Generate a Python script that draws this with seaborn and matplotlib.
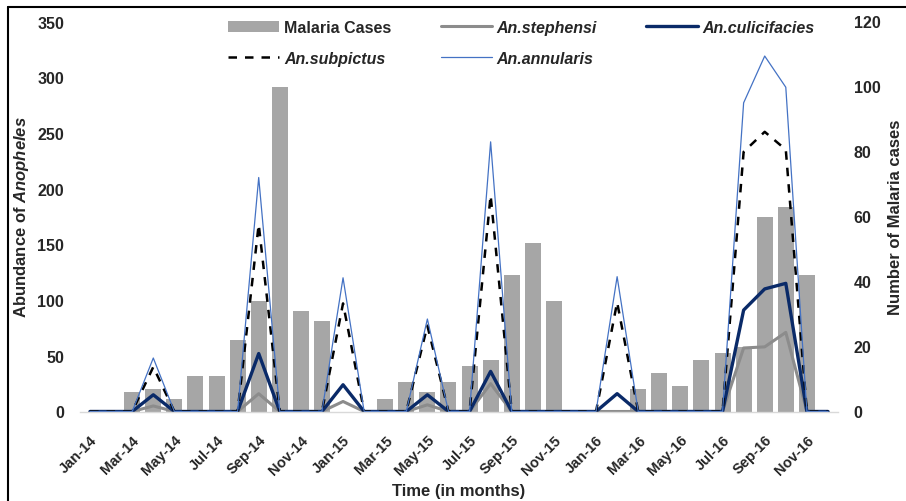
import numpy as np
import pandas as pd
import matplotlib
matplotlib.use("Agg")
import matplotlib.pyplot as plt
from matplotlib.patches import Patch
from matplotlib.lines import Line2D
from matplotlib.font_manager import FontProperties
import seaborn as sns

# ---- data -------------------------------------------------------------
months = [
    "Jan-14", "Feb-14", "Mar-14", "Apr-14", "May-14", "Jun-14",
    "Jul-14", "Aug-14", "Sep-14", "Oct-14", "Nov-14", "Dec-14",
    "Jan-15", "Feb-15", "Mar-15", "Apr-15", "May-15", "Jun-15",
    "Jul-15", "Aug-15", "Sep-15", "Oct-15", "Nov-15", "Dec-15",
    "Jan-16", "Feb-16", "Mar-16", "Apr-16", "May-16", "Jun-16",
    "Jul-16", "Aug-16", "Sep-16", "Oct-16", "Nov-16", "Dec-16",
]

malaria_cases = [0, 0, 6, 7, 4, 11, 11, 22, 34, 100, 31, 28,
                 0, 0, 4, 9, 6, 9, 14, 16, 42, 52, 34, 0,
                 0, 0, 7, 12, 8, 16, 18, 20, 60, 63, 42, 0]

an_stephensi = [0, 0, 0, 5, 0, 0, 0, 0, 16, 0, 0, 0,
                9, 0, 0, 0, 6, 0, 0, 25, 0, 0, 0, 0,
                0, 0, 0, 0, 0, 0, 0, 57, 58, 71, 0, 0]

an_culicifacies = [0, 0, 0, 15, 0, 0, 0, 0, 52, 0, 0, 0,
                   24, 0, 0, 0, 15, 0, 0, 36, 0, 0, 0, 0,
                   0, 16, 0, 0, 0, 0, 0, 91, 110, 115, 0, 0]

an_subpictus = [0, 0, 0, 40, 0, 0, 0, 0, 168, 0, 0, 0,
                97, 0, 0, 0, 77, 0, 0, 194, 0, 0, 0, 0,
                0, 98, 0, 0, 0, 0, 0, 233, 251, 235, 0, 0]

an_annularis = [0, 0, 0, 48, 0, 0, 0, 0, 210, 0, 0, 0,
                120, 0, 0, 0, 83, 0, 0, 242, 0, 0, 0, 0,
                0, 121, 0, 0, 0, 0, 0, 277, 319, 291, 0, 0]

left_ticks = [0, 50, 100, 150, 200, 250, 300, 350]
right_ticks = [0, 20, 40, 60, 80, 100, 120]

# ---- style ------------------------------------------------------------
sns.set_theme(style="white")
plt.rcParams["font.family"] = ["Liberation Sans", "DejaVu Sans"]
plt.rcParams["font.weight"] = "bold"
plt.rcParams["mathtext.fontset"] = "custom"
plt.rcParams["mathtext.rm"] = "Liberation Sans:bold"
plt.rcParams["mathtext.it"] = "Liberation Sans:italic:bold"

BAR = "#A6A6A6"
C_STEPH = "#8C8C8C"
C_CULIC = "#0A2A68"
C_SUBP = "#000000"
C_ANNU = "#4472C4"

W, H = 906, 502
fig = plt.figure(figsize=(W / 100, H / 100), dpi=100)
x0, x1, yb, yt = 79.5, 838.5, 412.5, 22.5
ax = fig.add_axes([x0 / W, 1 - yb / H, (x1 - x0) / W, (yb - yt) / H])
ax2 = ax.twinx()

# bars (malaria cases) on the right-hand axis
df_cases = pd.DataFrame({"month": months, "cases": malaria_cases})
sns.barplot(data=df_cases, x="month", y="cases", order=months, ax=ax2,
            color=BAR, saturation=1, width=0.76, edgecolor="none")

# mosquito abundance lines on the left-hand axis
idx = np.arange(len(months))
sns.lineplot(x=idx, y=an_stephensi, ax=ax, color=C_STEPH, linewidth=2.2)
sns.lineplot(x=idx, y=an_culicifacies, ax=ax, color=C_CULIC, linewidth=2.4)
sns.lineplot(x=idx, y=an_subpictus, ax=ax, color=C_SUBP, linewidth=1.8,
             linestyle=(0, (3.4, 3.2)))
sns.lineplot(x=idx, y=an_annularis, ax=ax, color=C_ANNU, linewidth=0.9)

ax.set_zorder(ax2.get_zorder() + 1)
ax.patch.set_visible(False)

ax.set_xlim(-0.5, len(months) - 0.5)
ax.set_ylim(0, 350)
ax2.set_ylim(0, 120)
ax.set_yticks(left_ticks)
ax2.set_yticks(right_ticks)
ax.set_xticks(idx[::2])
ax.set_xticklabels(months[::2], rotation=45, ha="right",
                   rotation_mode="anchor", fontsize=10.5, fontweight="bold")

for a in (ax, ax2):
    for s in a.spines.values():
        s.set_visible(False)
ax.spines["bottom"].set_visible(True)
ax.spines["bottom"].set_color("#D9D9D9")
ax.spines["bottom"].set_linewidth(1.0)

ax.tick_params(axis="y", length=0, pad=11, labelsize=11.5)
ax2.tick_params(axis="y", length=0, pad=11, labelsize=11.5)
ax.tick_params(axis="x", length=0, pad=15)
for t in ax.get_yticklabels() + ax2.get_yticklabels():
    t.set_fontweight("bold")
ax.grid(False)
ax2.grid(False)

ax.set_xlabel("Time (in months)", fontsize=12, fontweight="bold")
ax.xaxis.label.set_va("center")
ax.xaxis.set_label_coords(0.5, -(492 - yb) / (yb - yt))

ax.set_ylabel(r"Abundance of $\mathit{Anopheles}$", fontsize=12,
              fontweight="bold")
ax.yaxis.label.set_va("center")
ax.yaxis.set_label_coords((21.5 - x0) / (x1 - x0), 0.5)

ax2.set_ylabel("Number of Malaria cases", fontsize=12, fontweight="bold")
ax2.yaxis.label.set_va("center")
ax2.yaxis.set_label_coords((896 - x0) / (x1 - x0), 0.5)

# legend: two rows, three columns
handles = [
    Patch(facecolor=BAR, edgecolor="none"),
    Line2D([], [], color=C_SUBP, lw=1.8, linestyle=(0, (3.4, 3.2))),
    Line2D([], [], color=C_STEPH, lw=2.2),
    Line2D([], [], color=C_ANNU, lw=0.9),
    Line2D([], [], color=C_CULIC, lw=2.4),
]
labels = ["Malaria Cases", "An.subpictus", "An.stephensi",
          "An.annularis", "An.culicifacies"]
leg = fig.legend(handles, labels, loc="upper left",
                 bbox_to_anchor=(228 / W, 1 - 21 / H), ncol=3,
                 frameon=False, borderpad=0, borderaxespad=0,
                 handlelength=3.2, handletextpad=0.3, columnspacing=3.1,
                 labelspacing=1.0,
                 prop=FontProperties(family="Liberation Sans",
                                     weight="bold", size=11.5))
for t in leg.get_texts():
    if t.get_text().startswith("An."):
        t.set_fontstyle("italic")

# thin frame along the top and left edges
fig.add_artist(Line2D([8 / W, 8 / W], [0, 1 - 7.5 / H],
                      transform=fig.transFigure, color="black", lw=1.5))
fig.add_artist(Line2D([8 / W, 1], [1 - 7.5 / H, 1 - 7.5 / H],
                      transform=fig.transFigure, color="black", lw=1.5))

fig.savefig("out.png", dpi=100)
